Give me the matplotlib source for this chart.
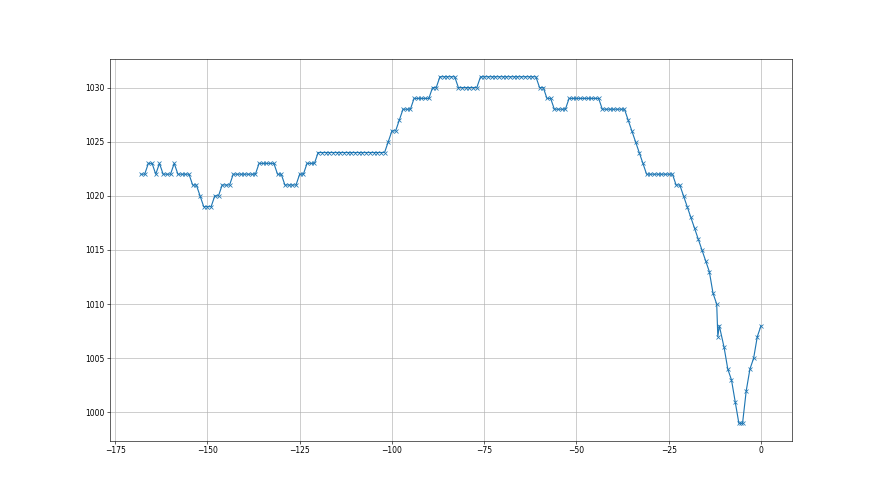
import matplotlib
matplotlib.use("Agg")
import matplotlib.pyplot as plt

# Hourly readings, hours -168 .. -14
hours = list(range(-168, -13))
pressure = [
    1022, 1022, 1023, 1023, 1022, 1023, 1022, 1022, 1022, 1023,
    1022, 1022, 1022, 1022, 1021, 1021, 1020, 1019, 1019, 1019,
    1020, 1020, 1021, 1021, 1021, 1022, 1022, 1022, 1022, 1022,
    1022, 1022, 1023, 1023, 1023, 1023, 1023, 1022, 1022, 1021,
    1021, 1021, 1021, 1022, 1022, 1023, 1023, 1023, 1024, 1024,
    1024, 1024, 1024, 1024, 1024, 1024, 1024, 1024, 1024, 1024,
    1024, 1024, 1024, 1024, 1024, 1024, 1024, 1025, 1026, 1026,
    1027, 1028, 1028, 1028, 1029, 1029, 1029, 1029, 1029, 1030,
    1030, 1031, 1031, 1031, 1031, 1031, 1030, 1030, 1030, 1030,
    1030, 1030, 1031, 1031, 1031, 1031, 1031, 1031, 1031, 1031,
    1031, 1031, 1031, 1031, 1031, 1031, 1031, 1031, 1030, 1030,
    1029, 1029, 1028, 1028, 1028, 1028, 1029, 1029, 1029, 1029,
    1029, 1029, 1029, 1029, 1029, 1028, 1028, 1028, 1028, 1028,
    1028, 1028, 1027, 1026, 1025, 1024, 1023, 1022, 1022, 1022,
    1022, 1022, 1022, 1022, 1022, 1021, 1021, 1020, 1019, 1018,
    1017, 1016, 1015, 1014, 1013,
]

# Last readings are not evenly spaced
tail_hours = [-13, -12, -11.7, -11.3, -10, -9, -8, -7, -6, -5.5, -5, -4, -3, -2, -1, 0]
tail_pressure = [1011, 1010, 1007, 1008, 1006, 1004, 1003, 1001, 999, 999, 999, 1002, 1004, 1005, 1007, 1008]

x = hours + tail_hours
y = pressure + tail_pressure

fig = plt.figure(figsize=(16, 9), dpi=55)
plt.plot(x, y, marker="x", markersize=6.5)
plt.grid(True)

plt.savefig("out.png", dpi=55)
plt.close()
